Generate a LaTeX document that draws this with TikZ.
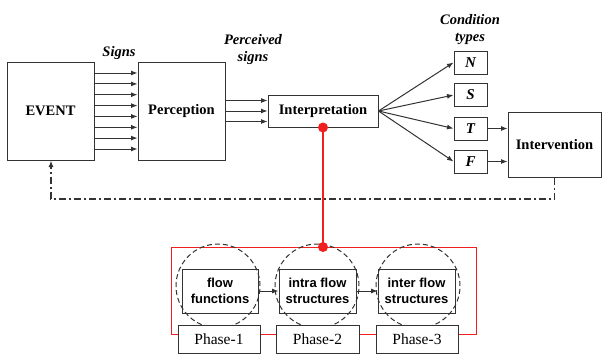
\documentclass[tikz,border=0pt]{standalone}
\usepackage{fontspec}
\setmainfont{Liberation Serif}[
  BoldFont={Liberation Serif Bold},
  ItalicFont={Liberation Serif Italic},
  BoldItalicFont={Liberation Serif Bold Italic}]
\setsansfont{Liberation Sans}
\usetikzlibrary{arrows.meta,positioning,calc}
\definecolor{linegray}{HTML}{333333}
\definecolor{loopred}{HTML}{F02020}
\tikzset{
  box/.style={draw=linegray,line width=1pt,fill=white,inner sep=1pt,
    font=\fontsize{14.5}{16}\selectfont\bfseries},
  condbox/.style={box,minimum width=33pt,minimum height=23pt,
    font=\fontsize{15}{17}\selectfont\bfseries\itshape},
  flowbox/.style={draw=linegray,line width=0.8pt,minimum width=77pt,minimum height=44pt,
    align=center,inner sep=1pt,font=\fontsize{13}{15.5}\selectfont\sffamily\bfseries},
  phasebox/.style={draw=linegray,line width=1pt,fill=white,minimum width=82pt,minimum height=28pt,
    font=\fontsize{15.5}{17}\selectfont},
  zone/.style={draw=linegray,line width=1pt,dash pattern=on 5pt off 3pt,circle,minimum size=84pt},
  tag/.style={align=center,font=\fontsize{14.5}{17}\selectfont\bfseries\itshape},
  arr/.style={-{Latex[length=6.5pt,width=5pt]},draw=linegray,line width=1pt},
  dot/.style={circle,fill=loopred,inner sep=0pt,minimum size=10pt}
}
\begin{document}
\begin{tikzpicture}[x=1pt,y=-1pt]
  \useasboundingbox (0,0) rectangle (603,354);
  % main chain
  \node[box,minimum width=87pt,minimum height=98pt] (event) at (50.5,111) {EVENT};
  \node[box,minimum width=87pt,minimum height=98pt] (perc) at (181.5,111) {Perception};
  \node[box,minimum width=110pt,minimum height=32pt] (interp) at (323,111) {Interpretation};
  \node[box,minimum width=93pt,minimum height=65pt] (interv) at (554.5,144.5) {Intervention};
  \node[condbox] (condN) at (470.5,62.5) {N};
  \node[condbox] (condS) at (470.5,95) {S};
  \node[condbox] (condT) at (470.5,128.5) {T};
  \node[condbox] (condF) at (470.5,161.5) {F};
  % labels
  \node[tag] (signs) at (119,53) {Signs};
  \node[tag] (psigns) at (253,50) {Perceived\\signs};
  \node[tag] (ctypes) at (470,29.5) {Condition\\types};
  % signs and perceived signs
  \foreach \y in {73,83.9,94.7,105.6,116.4,127.3,138.1,149}
    \draw[arr] (event.east |- 0,\y) -- (perc.west |- 0,\y);
  \foreach \y in {100.5,111,121.5}
    \draw[arr] (perc.east |- 0,\y) -- (interp.west |- 0,\y);
  \foreach \c in {condN,condS,condT,condF}
    \draw[arr] (interp.east) -- (\c.west);
  \draw[arr] (condT.east) -- (condT.east -| interv.west);
  \draw[arr] (condF.east) -- (condF.east -| interv.west);
  % feedback loop
  \coordinate (back) at (51,199);
  \draw[arr,dash pattern=on 7pt off 3pt on 2pt off 3pt,line width=1.2pt]
    (interv.south) |- (back) -- (event.south -| back);
  % phases
  \draw[loopred,line width=1pt] (171,247) rectangle (476,334);
  \node[zone] (zone1) at (218,286) {};
  \node[zone] (zone2) at (317,286) {};
  \node[zone] (zone3) at (418,286) {};
  \node[flowbox,minimum width=76pt] (flow) at (220,291) {flow\\functions};
  \node[flowbox] (intra) at (317.5,291) {intra flow\\structures};
  \node[flowbox] (inter) at (416.5,291) {inter flow\\structures};
  \draw[arr] (flow) -- (intra);
  \draw[arr] (intra) -- (inter);
  \node[phasebox] (ph1) at (219,339) {Phase-1};
  \node[phasebox,minimum width=83pt] (ph2) at (317.5,339) {Phase-2};
  \node[phasebox] (ph3) at (417,339) {Phase-3};
  % link to interpretation
  \coordinate (link) at (323,247);
  \draw[loopred,line width=1.5pt] (interp.south) -- (link);
  \node[dot] at (interp.south) {};
  \node[dot] at (link) {};
\end{tikzpicture}
\end{document}
